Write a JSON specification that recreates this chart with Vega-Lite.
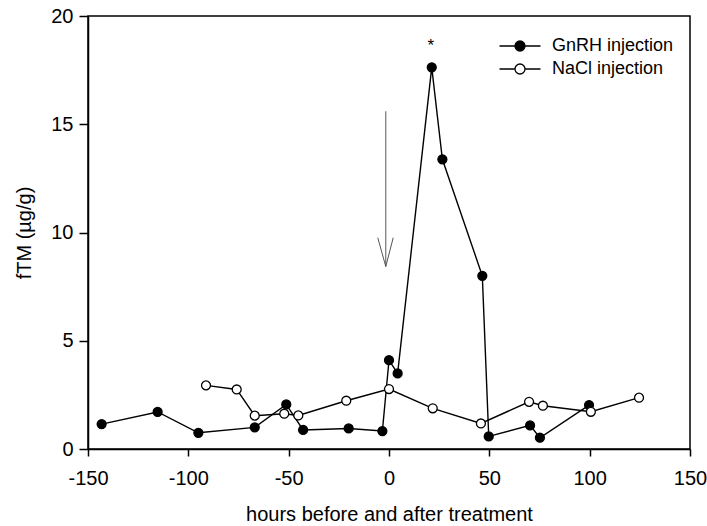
{
  "$schema": "https://vega.github.io/schema/vega-lite/v6.json",
  "width": 602,
  "height": 433,
  "autosize": "none",
  "padding": {"left": 88, "top": 16, "right": 17, "bottom": 77},
  "background": "white",
  "config": {
    "font": "Liberation Sans",
    "view": {"stroke": "black", "strokeWidth": 1.5},
    "axis": {
      "grid": false,
      "domainColor": "black",
      "domainWidth": 1.5,
      "tickColor": "black",
      "tickWidth": 1.5,
      "labelFlush": false,
      "labelOverlap": false,
      "labelFont": "Liberation Sans",
      "labelFontSize": 20,
      "labelColor": "black",
      "titleFont": "Liberation Sans",
      "titleFontSize": 20,
      "titleFontWeight": "normal",
      "titleColor": "black"
    },
    "legend": {"padding": 0}
  },
  "datasets": {
    "series": [
      {"group": "GnRH injection", "hours": -143.2, "ftm": 1.15},
      {"group": "GnRH injection", "hours": -115.3, "ftm": 1.71},
      {"group": "GnRH injection", "hours": -95.0, "ftm": 0.75},
      {"group": "GnRH injection", "hours": -66.9, "ftm": 1.0},
      {"group": "GnRH injection", "hours": -51.2, "ftm": 2.06},
      {"group": "GnRH injection", "hours": -42.8, "ftm": 0.88},
      {"group": "GnRH injection", "hours": -20.1, "ftm": 0.95},
      {"group": "GnRH injection", "hours": -3.3, "ftm": 0.83},
      {"group": "GnRH injection", "hours": 0.0, "ftm": 4.1},
      {"group": "GnRH injection", "hours": 4.3, "ftm": 3.49},
      {"group": "GnRH injection", "hours": 21.3, "ftm": 17.63},
      {"group": "GnRH injection", "hours": 26.6, "ftm": 13.38},
      {"group": "GnRH injection", "hours": 46.5, "ftm": 8.0},
      {"group": "GnRH injection", "hours": 49.7, "ftm": 0.58},
      {"group": "GnRH injection", "hours": 70.3, "ftm": 1.09},
      {"group": "GnRH injection", "hours": 75.2, "ftm": 0.52},
      {"group": "GnRH injection", "hours": 99.7, "ftm": 2.03},
      {"group": "NaCl injection", "hours": -91.2, "ftm": 2.94},
      {"group": "NaCl injection", "hours": -75.9, "ftm": 2.75},
      {"group": "NaCl injection", "hours": -66.9, "ftm": 1.54},
      {"group": "NaCl injection", "hours": -52.2, "ftm": 1.63},
      {"group": "NaCl injection", "hours": -45.2, "ftm": 1.55},
      {"group": "NaCl injection", "hours": -21.3, "ftm": 2.23},
      {"group": "NaCl injection", "hours": 0.0, "ftm": 2.77},
      {"group": "NaCl injection", "hours": 21.8, "ftm": 1.88},
      {"group": "NaCl injection", "hours": 45.8, "ftm": 1.18},
      {"group": "NaCl injection", "hours": 69.8, "ftm": 2.18},
      {"group": "NaCl injection", "hours": 76.7, "ftm": 2.0},
      {"group": "NaCl injection", "hours": 100.6, "ftm": 1.72},
      {"group": "NaCl injection", "hours": 124.6, "ftm": 2.37}
    ],
    "arrow": [
      {"x": -1.6, "y": 15.6, "x2": -1.6, "y2": 8.43},
      {"x": -5.6, "y": 9.76, "x2": -1.6, "y2": 8.43},
      {"x": 2.1, "y": 9.76, "x2": -1.6, "y2": 8.43}
    ],
    "marks": [
      {"hours": 20.8, "ftm": 18.4, "label": "*"}
    ]
  },
  "layer": [
    {
      "data": {"name": "arrow"},
      "mark": {"type": "rule", "color": "#555555", "strokeWidth": 1},
      "encoding": {
        "x": {"field": "x", "type": "quantitative", "scale": {"domain": [-150, 150]}},
        "y": {"field": "y", "type": "quantitative", "scale": {"domain": [0, 20]}},
        "x2": {"field": "x2"},
        "y2": {"field": "y2"}
      }
    },
    {
      "data": {"name": "series"},
      "mark": {"type": "line", "color": "black", "strokeWidth": 1.4},
      "encoding": {
        "x": {
          "field": "hours",
          "type": "quantitative",
          "scale": {"domain": [-150, 150], "nice": false, "zero": false},
          "axis": {
            "values": [-150, -100, -50, 0, 50, 100, 150],
            "labelExpr": "'' + datum.value",
            "tickSize": 7,
            "labelPadding": 12,
            "title": "hours before and after treatment",
            "titlePadding": 16
          }
        },
        "y": {
          "field": "ftm",
          "type": "quantitative",
          "scale": {"domain": [0, 20], "nice": false},
          "axis": {
            "values": [0, 5, 10, 15, 20],
            "tickSize": 9,
            "labelPadding": 6,
            "title": "fTM (µg/g)",
            "titlePadding": 16
          }
        },
        "detail": {"field": "group"}
      }
    },
    {
      "data": {"name": "series"},
      "mark": {"type": "point", "filled": true, "stroke": "black", "strokeWidth": 1.3, "opacity": 1, "size": 80, "shape": "circle"},
      "encoding": {
        "x": {"field": "hours", "type": "quantitative"},
        "y": {"field": "ftm", "type": "quantitative"},
        "fill": {
          "field": "group",
          "type": "nominal",
          "scale": {"domain": ["GnRH injection", "NaCl injection"], "range": ["black", "white"]},
          "legend": {
            "title": null,
            "orient": "none",
            "legendX": 421,
            "legendY": 19,
            "symbolType": "M-2.05,0L-0.5,0M0.5,0L2.05,0M0.5,0A0.5,0.5,0,1,1,-0.5,0A0.5,0.5,0,1,1,0.5,0Z",
            "symbolSize": 400,
            "symbolStrokeColor": "black",
            "symbolStrokeWidth": 1.3,
            "symbolOpacity": 1,
            "labelOffset": 21,
            "labelFont": "Liberation Sans",
            "labelFontSize": 18,
            "labelColor": "black",
            "rowPadding": 3
          }
        }
      }
    },
    {
      "data": {"name": "marks"},
      "mark": {"type": "text", "fontSize": 17, "color": "black", "baseline": "alphabetic", "align": "center"},
      "encoding": {
        "x": {"field": "hours", "type": "quantitative"},
        "y": {"field": "ftm", "type": "quantitative"},
        "text": {"field": "label"}
      }
    }
  ]
}
